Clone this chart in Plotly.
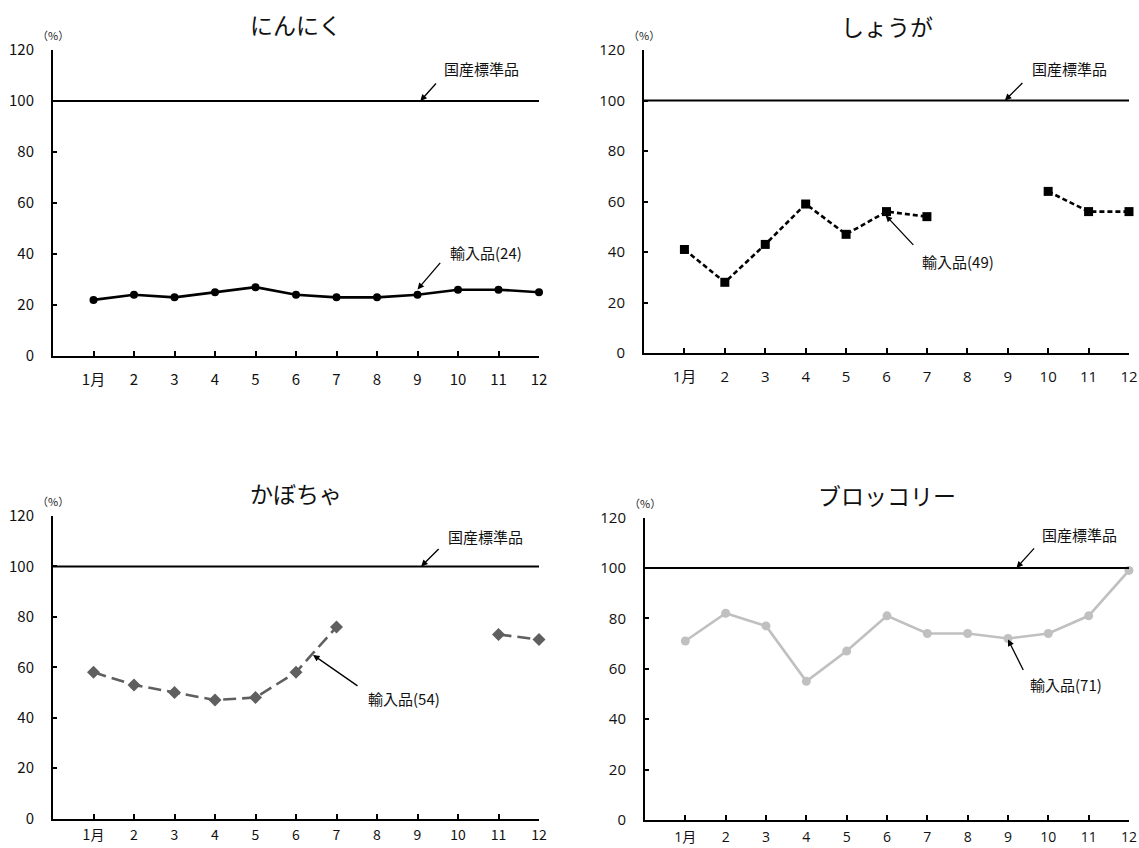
import plotly.graph_objects as go

months = list(range(1, 13))
month_labels = ["1月", "2", "3", "4", "5", "6", "7", "8", "9", "10", "11", "12"]
y_ticks = [0, 20, 40, 60, 80, 100, 120]

titles = ["にんにく", "しょうが", "かぼちゃ", "ブロッコリー"]
standard_value = 100
standard_label = "国産標準品"

garlic = [22, 24, 23, 25, 27, 24, 23, 23, 24, 26, 26, 25]
ginger = [41, 28, 43, 59, 47, 56, 54, None, None, 64, 56, 56]
pumpkin = [58, 53, 50, 47, 48, 58, 76, None, None, None, 73, 71]
broccoli = [71, 82, 77, 55, 67, 81, 74, 74, 72, 74, 81, 99]

import_labels = ["輸入品(24)", "輸入品(49)", "輸入品(54)", "輸入品(71)"]

W, H = 1139, 848
# pixel boxes of plot areas: (left, right, top, bottom)
boxes = [(53, 539, 50, 356), (644, 1129, 50, 353), (53, 539, 516, 818.5), (645, 1129, 517.5, 820)]
title_shift = [26, 24, 23, 23]
x_standoff = [9, 9, 3, 3]
x_font_size = [15, 15, 14, 14]

series = [
    dict(y=garlic, color="#000000", dash="solid", symbol="circle", size=8),
    dict(y=ginger, color="#000000", dash="5px,3px", symbol="square", size=9),
    dict(y=pumpkin, color="#5f5f5f", dash="13px,6px", symbol="diamond", size=10),
    dict(y=broccoli, color="#c0c0c0", dash="solid", symbol="circle", size=9),
]

tick_fonts = ["Noto Sans CJK JP", "Open Sans, Noto Sans CJK JP", "Noto Sans CJK JP", "Open Sans, Noto Sans CJK JP"]

# annotation anchors (data coords) and arrow tails (pixel offsets)
std_text_pos = [(10.59, 112.9), (10.54, 112.8), (10.67, 111.8), (10.78, 113.1)]
std_head_x = [9.07, 8.93, 9.09, 9.21]
std_tail = [(17, -19), (19, -19), (19, -19), (19, -21)]
imp_text_pos = [(10.68, 40.4), (7.76, 36.2), (8.67, 47.7), (10.43, 53.6)]
imp_head = [(9.0, 26.1), (5.98, 54.5), (6.42, 64.9), (9.0, 71.6)]
imp_tail = [(24, -28), (29, 31), (46, 32), (16, 32)]

fig = go.Figure()
annotations = []
shapes = []
for i, s in enumerate(series):
    k = "" if i == 0 else str(i + 1)
    xa, ya = "x" + k, "y" + k
    fig.add_trace(go.Scatter(
        x=months, y=s["y"], xaxis=xa, yaxis=ya, mode="lines+markers",
        line=dict(color=s["color"], width=2.6, dash=s["dash"]),
        marker=dict(color=s["color"], symbol=s["symbol"], size=s["size"]),
        connectgaps=False, showlegend=False, hoverinfo="x+y", cliponaxis=False))
    l, r, t, b = boxes[i]
    fig.layout["xaxis" + k] = dict(
        domain=[l / W, r / W], anchor=ya, range=[0, 12], automargin=False,
        tickvals=months, ticktext=month_labels,
        ticks="inside", ticklen=5, tickwidth=2, tickcolor="black",
        showline=True, linecolor="black", linewidth=2,
        showgrid=False, zeroline=False, ticklabelstandoff=x_standoff[i],
        tickfont=dict(family=tick_fonts[i], size=x_font_size[i], color="#111"))
    fig.layout["yaxis" + k] = dict(
        domain=[1 - b / H, 1 - t / H], anchor=xa, range=[0, 120], automargin=False,
        tickvals=y_ticks, ticks="inside", ticklen=4, tickwidth=2, tickcolor="black",
        showline=True, linecolor="black", linewidth=2,
        showgrid=False, zeroline=False, ticklabelstandoff=14,
        tickfont=dict(family=tick_fonts[i], size=15, color="#111"))
    shapes.append(dict(type="line", xref=xa + " domain", yref=ya, x0=0, x1=1,
                       y0=standard_value, y1=standard_value,
                       line=dict(color="black", width=2)))
    # title
    annotations.append(dict(xref=xa + " domain", yref=ya + " domain", x=0.5, y=1,
                            xanchor="center", yanchor="middle",
                            yshift=title_shift[i], text=titles[i], showarrow=False,
                            font=dict(family="Noto Sans CJK JP", size=23, color="#111")))
    # (%)
    annotations.append(dict(xref=xa + " domain", yref=ya + " domain", x=0, y=1,
                            xanchor="center", yanchor="middle",
                            yshift=15, text="（%）", showarrow=False,
                            font=dict(family="Noto Sans CJK JP", size=11, color="#222")))
    # standard label
    tx, ty = std_text_pos[i]
    annotations.append(dict(xref=xa, yref=ya, x=tx, y=ty, text=standard_label,
                            xanchor="center", yanchor="middle", showarrow=False,
                            font=dict(family="Noto Sans CJK JP", size=15, color="#111")))
    annotations.append(dict(xref=xa, yref=ya, x=std_head_x[i], y=standard_value, text="",
                            showarrow=True, ax=std_tail[i][0], ay=std_tail[i][1],
                            arrowhead=2, arrowsize=1, arrowwidth=1.3, arrowcolor="black"))
    # import label
    tx, ty = imp_text_pos[i]
    annotations.append(dict(xref=xa, yref=ya, x=tx, y=ty, text=import_labels[i],
                            xanchor="center", yanchor="middle", showarrow=False,
                            font=dict(family="Noto Sans CJK JP", size=15, color="#111")))
    hx, hy = imp_head[i]
    annotations.append(dict(xref=xa, yref=ya, x=hx, y=hy, text="",
                            showarrow=True, ax=imp_tail[i][0], ay=imp_tail[i][1],
                            arrowhead=2, arrowsize=1, arrowwidth=1.3, arrowcolor="black"))

fig.update_layout(
    width=W, height=H, margin=dict(l=0, r=0, t=0, b=0, autoexpand=False),
    paper_bgcolor="white", plot_bgcolor="white",
    annotations=annotations, shapes=shapes,
    font=dict(family="Noto Sans CJK JP"))

fig.write_html("out.html")
